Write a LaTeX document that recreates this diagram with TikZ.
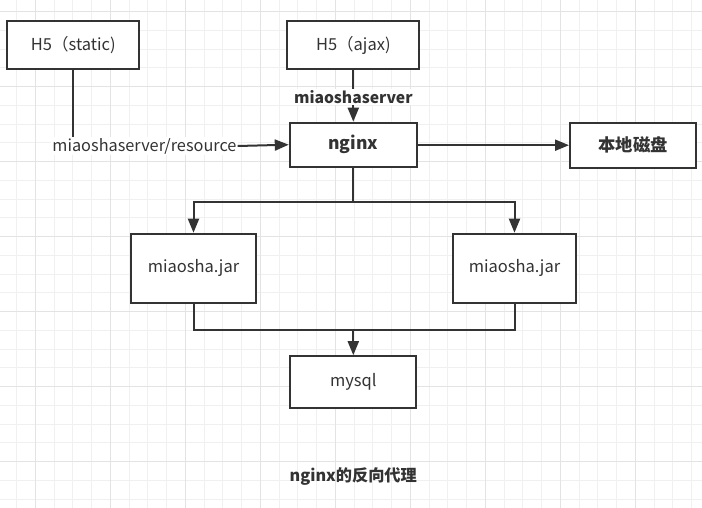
\documentclass[tikz,border=0pt]{standalone}
\usepackage{fontspec}
\setmainfont{Noto Sans CJK SC}
\usetikzlibrary{arrows.meta}
\definecolor{ink}{HTML}{333333}
\definecolor{gridminor}{HTML}{F0F0F0}
\definecolor{gridmajor}{HTML}{E3E3E3}
\tikzset{
  box/.style={draw=ink, line width=2pt, fill=white, text=ink, inner sep=0pt, font=\fontsize{16.5}{18}\selectfont},
  conn/.style={draw=ink, line width=2pt},
  arr/.style={conn, -{Triangle[length=14pt,width=11pt]}},
  lbl/.style={fill=white, text=ink, inner sep=1pt, font=\fontsize{16.3}{18}\selectfont},
}
\begin{document}
\begin{tikzpicture}[x=1pt,y=-1pt]
\useasboundingbox (0,0) rectangle (702,508);
\fill[white] (0,0) rectangle (702,508);
% grid
\foreach \i in {-1,...,36} {
  \pgfmathsetmacro{\gx}{35.3+18.75*\i}
  \draw[gridminor, line width=1pt] (\gx,0) -- (\gx,508);
}
\foreach \i in {0,...,27} {
  \pgfmathsetmacro{\gy}{11.7+18.75*\i}
  \draw[gridminor, line width=1pt] (0,\gy) -- (702,\gy);
}
\foreach \i in {0,...,9} {
  \pgfmathsetmacro{\gx}{35.3+75*\i}
  \draw[gridmajor, line width=1pt] (\gx,0) -- (\gx,508);
}
\foreach \i in {0,...,6} {
  \pgfmathsetmacro{\gy}{11.7+75*\i}
  \draw[gridmajor, line width=1pt] (0,\gy) -- (702,\gy);
}
% boxes
\node[box, minimum width=132pt, minimum height=48pt] (static) at (73.3,45) {H5（static)};
\node[box, minimum width=132pt, minimum height=48pt] (ajax) at (353.3,45) {H5（ajax)};
\node[box, minimum width=127pt, minimum height=44pt, font=\fontsize{17.5}{19}\selectfont\bfseries] (nginx) at (353.3,144.7) {nginx};
\node[box, minimum width=126pt, minimum height=45pt, font=\fontsize{17.3}{19}\selectfont\bfseries] (disk) at (633,145.2) {本地磁盘};
\node[box, minimum width=125pt, minimum height=69pt] (jar1) at (193.5,268.2) {miaosha.jar};
\node[box, minimum width=123pt, minimum height=69pt] (jar2) at (514.5,268.2) {miaosha.jar};
\node[box, minimum width=126pt, minimum height=52pt] (mysql) at (353.3,382.2) {mysql};
% connectors
\coordinate (c1) at (static.south |- nginx.west);
\draw[conn] (static.south) -- (c1);
\node[lbl] (reslbl) at (144.5,146) {miaoshaserver/resource};
\draw[arr] (reslbl.east) -- (nginx.west);
\draw[arr] (ajax.south) -- (nginx.north);
\node[lbl, font=\fontsize{15.7}{18}\selectfont\bfseries] (srvlbl) at (353.3,97) {miaoshaserver};
\draw[arr] (nginx.east |- disk.west) -- (disk.west);
\coordinate (split) at (353.3,201.7);
\draw[conn] (nginx.south) -- (split);
\draw[arr] (split) -| (jar1.north);
\draw[arr] (split) -| (jar2.north);
\coordinate (join) at (353.3,330);
\draw[conn] (jar1.south) |- (join);
\draw[conn] (jar2.south) |- (join);
\draw[arr] (join) -- (mysql.north);
% caption
\node[text=ink, font=\fontsize{16.2}{18}\selectfont\bfseries] (cap) at (353.3,477) {nginx的反向代理};
\end{tikzpicture}
\end{document}
